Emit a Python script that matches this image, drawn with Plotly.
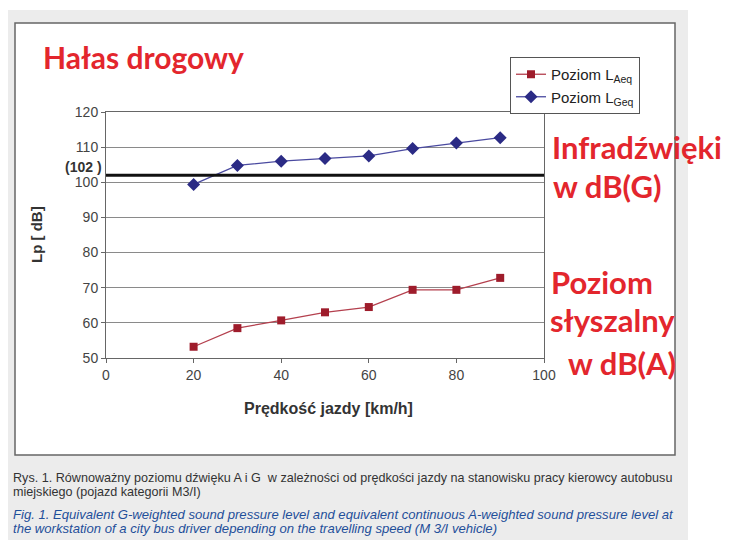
import plotly.graph_objects as go

speed = [20, 30, 40, 50, 60, 70, 80, 90]
l_geq = [99.4, 104.8, 106.0, 106.8, 107.5, 109.6, 111.2, 112.7]
l_aeq = [53.2, 58.5, 60.7, 63.0, 64.5, 69.4, 69.4, 72.8]
threshold = 102
y_ticks = [50, 60, 70, 80, 90, 100, 110, 120]
x_ticks = [0, 20, 40, 60, 80, 100]

# page body has an 8px margin; work in window pixels and convert
OFF = 8
W_FIG, H_FIG = 729 - OFF, 540 - OFF
L, R, T, B = 106, 544, 112, 358  # plot area in window pixels
PW, PH = R - L, B - T

def px(x):
    return (x - L) / PW

def py(y):
    return (B - y) / PH

RED = "#e3262d"
AX_FONT = "Arial, Liberation Sans"
fig = go.Figure()
fig.add_trace(go.Scatter(x=speed, y=l_aeq, mode="lines+markers", name="Poziom L<sub>Aeq</sub>",
                         line=dict(color="#b4404e", width=1.3),
                         marker=dict(symbol="square", size=8, color="#9e1c2b")))
fig.add_trace(go.Scatter(x=speed, y=l_geq, mode="lines+markers", name="Poziom L<sub>Geq</sub>",
                         line=dict(color="#4a4aa0", width=1.3),
                         marker=dict(symbol="diamond", size=10, color="#2b2b85")))

shapes = [
    dict(type="rect", xref="paper", yref="paper", x0=px(5), x1=px(688), y0=py(10), y1=py(545),
         fillcolor="#ececec", line=dict(width=0), layer="below"),
    dict(type="rect", xref="paper", yref="paper", x0=px(15), x1=px(675), y0=py(23), y1=py(455),
         fillcolor="#ffffff", line=dict(color="#666666", width=1.5), layer="below"),
    dict(type="line", xref="paper", yref="y", x0=0, x1=1, y0=threshold, y1=threshold,
         line=dict(color="#111111", width=3)),
]

ann = []
ann.append(dict(text="<b>Hałas drogowy</b>", x=px(41), y=py(57), xanchor="left", yanchor="middle",
                font=dict(family="Lato", size=30, color=RED)))
for txt, xx, yy in [("Infradźwięki", 550, 147), ("w dB(G)", 551, 186), ("Poziom", 549, 282),
                    ("słyszalny", 548, 320), ("w dB(A)", 566, 363)]:
    ann.append(dict(text="<b>" + txt + "</b>", x=px(xx), y=py(yy), xanchor="left", yanchor="middle",
                    font=dict(family="Lato", size=31, color=RED)))
ann.append(dict(text="<b>(102 )</b>", x=px(104), y=py(167), xanchor="right", yanchor="middle",
                font=dict(family=AX_FONT, size=14, color="#333333")))
ann.append(dict(text="<b>Lp [ dB]</b>", x=px(36), y=py(235), xanchor="center", yanchor="middle",
                textangle=-90, font=dict(family=AX_FONT, size=15, color="#333333")))
ann.append(dict(text="<b>Prędkość jazdy [km/h]</b>", x=px(328), y=py(408), xanchor="center", yanchor="middle",
                font=dict(family=AX_FONT, size=16, color="#333333")))
cap_font = dict(family="Liberation Sans", size=12.6, color="#333333")
cap2_font = dict(family="Liberation Sans", size=13.1, color="#1f4f9a")
ann.append(dict(text="Rys. 1. Równoważny poziomu dźwięku A i G  w zależności od prędkości jazdy na stanowisku pracy kierowcy autobusu",
                x=px(11), y=py(478), xanchor="left", yanchor="middle", font=cap_font))
ann.append(dict(text="miejskiego (pojazd kategorii M3/I)", x=px(11), y=py(492), xanchor="left", yanchor="middle", font=cap_font))
ann.append(dict(text="<i>Fig. 1. Equivalent G-weighted sound pressure level and equivalent continuous A-weighted sound pressure level at</i>",
                x=px(11), y=py(514), xanchor="left", yanchor="middle", font=cap2_font))
ann.append(dict(text="<i>the workstation of a city bus driver depending on the travelling speed (M 3/I vehicle)</i>",
                x=px(11), y=py(528), xanchor="left", yanchor="middle", font=cap2_font))
for a in ann:
    a.update(xref="paper", yref="paper", showarrow=False)

fig.update_layout(
    width=W_FIG, height=H_FIG,
    margin=dict(l=L - OFF, r=729 - R, t=T - OFF, b=540 - B),
    paper_bgcolor="white", plot_bgcolor="white",
    shapes=shapes, annotations=ann,
    legend=dict(x=px(510), y=py(57), xanchor="left", yanchor="top", bgcolor="white",
                bordercolor="#555555", borderwidth=1, font=dict(family=AX_FONT, size=15, color="#222"),
                tracegroupgap=0, itemwidth=30),
    xaxis=dict(range=[0, 100], tickvals=x_ticks, showgrid=False, showline=True, linecolor="#666666", linewidth=1,
               mirror=True, ticks="outside", ticklen=4, tickcolor="#666666", zeroline=False,
               tickfont=dict(family=AX_FONT, size=14, color="#444444")),
    yaxis=dict(range=[50, 120], tickvals=y_ticks, showgrid=True, gridcolor="#8a8a8a", gridwidth=1,
               showline=True, linecolor="#666666", linewidth=1, mirror=True, ticks="outside", ticklen=4,
               tickcolor="#666666", zeroline=False,
               tickfont=dict(family=AX_FONT, size=14, color="#444444")),
)
fig.write_html("out.html")
